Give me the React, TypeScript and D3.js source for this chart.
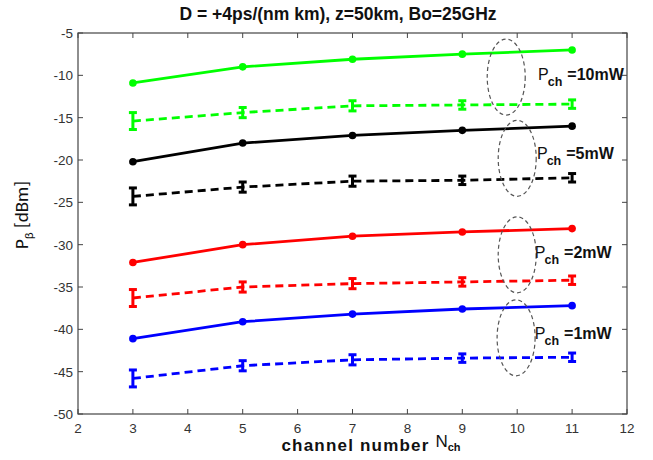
import React from "react";
import * as d3 from "d3";

const xs = [3, 5, 7, 9, 11];
const xTicks = [2, 3, 4, 5, 6, 7, 8, 9, 10, 11, 12];
const yTicks = [-5, -10, -15, -20, -25, -30, -35, -40, -45, -50];

const green10Solid = [-10.9, -9.0, -8.1, -7.5, -7.0];
const green10Dashed = [-15.4, -14.4, -13.6, -13.5, -13.4];
const black5Solid = [-20.2, -18.0, -17.1, -16.5, -16.0];
const black5Dashed = [-24.3, -23.2, -22.5, -22.4, -22.1];
const red2Solid = [-32.1, -30.0, -29.0, -28.5, -28.1];
const red2Dashed = [-36.3, -35.0, -34.6, -34.4, -34.2];
const blue1Solid = [-41.1, -39.1, -38.2, -37.6, -37.2];
const blue1Dashed = [-45.8, -44.3, -43.6, -43.4, -43.3];
const errDashed = [1.0, 0.6, 0.6, 0.5, 0.5];

const seriesSolid = [
  { v: green10Solid, c: "#00ff00" },
  { v: black5Solid, c: "#000000" },
  { v: red2Solid, c: "#ff0000" },
  { v: blue1Solid, c: "#0000ff" },
];
const seriesDashed = [
  { v: green10Dashed, c: "#00ff00" },
  { v: black5Dashed, c: "#000000" },
  { v: red2Dashed, c: "#ff0000" },
  { v: blue1Dashed, c: "#0000ff" },
];

const annotations = [
  { label: "=10mW", cx: 9.8, cy: -10.2, tx: 10.38, ty: -10.5 },
  { label: "=5mW", cx: 10.0, cy: -19.8, tx: 10.36, ty: -19.9 },
  { label: "=2mW", cx: 10.0, cy: -31.2, tx: 10.32, ty: -31.6 },
  { label: "=1mW", cx: 9.98, cy: -41.0, tx: 10.32, ty: -41.2 },
];

export default function App() {
  const W = 653, H = 460;
  const L = 78, R = 627, T = 33, B = 414;
  const x = d3.scaleLinear().domain([2, 12]).range([L, R]);
  const y = d3.scaleLinear().domain([-50, -5]).range([B, T]);
  const line = d3
    .line<number>()
    .x((_, i) => x(xs[i]))
    .y((d) => y(d));
  const font = "Liberation Sans, Arial, sans-serif";
  const tickCol = "#333";

  return (
    <svg width={W} height={H} style={{ position: "absolute", left: 0, top: 0 }}>
      <rect width={W} height={H} fill="#fff" />
      <text x={338} y={20} textAnchor="middle" fontFamily={font} fontWeight="bold" fontSize={17.5} fill="#111">
        D = +4ps/(nm km), z=50km, Bo=25GHz
      </text>
      {/* frame */}
      <rect x={L} y={T} width={R - L} height={B - T} fill="none" stroke="#444" strokeWidth={1.2} />
      {xTicks.map((t) => (
        <g key={"xt" + t}>
          <line x1={x(t)} x2={x(t)} y1={B} y2={B - 5} stroke="#444" />
          <line x1={x(t)} x2={x(t)} y1={T} y2={T + 5} stroke="#444" />
          <text x={x(t)} y={B + 19} textAnchor="middle" fontFamily={font} fontSize={13.5} fill={tickCol}>
            {t}
          </text>
        </g>
      ))}
      {yTicks.map((t) => (
        <g key={"yt" + t}>
          <line x1={L} x2={L + 5} y1={y(t)} y2={y(t)} stroke="#444" />
          <line x1={R} x2={R - 5} y1={y(t)} y2={y(t)} stroke="#444" />
          <text x={L - 5} y={y(t) + 5} textAnchor="end" fontFamily={font} fontSize={13.5} fill={tickCol}>
            {t}
          </text>
        </g>
      ))}
      {/* y label */}
      <text
        transform={`translate(28,${215}) rotate(-90)`}
        textAnchor="middle"
        fontFamily="Carlito, Liberation Sans, sans-serif"
        fontSize={19}
        fill="#111"
      >
        P<tspan fontSize={13} dy={5}>β</tspan>
        <tspan dy={-5}> [dBm]</tspan>
      </text>
      {/* x label */}
      <text x={371} y={451} textAnchor="middle" fontFamily={font} fontSize={17} fill="#111">
        <tspan fontWeight="bold" letterSpacing={1.2}>channel number </tspan>
        <tspan dy={-4}>N</tspan>
        <tspan fontSize={11} fontWeight="bold" dy={4}>ch</tspan>
      </text>
      {/* solid lines */}
      {seriesSolid.map((s, k) => (
        <g key={"s" + k}>
          <path d={line(s.v) || ""} fill="none" stroke={s.c} strokeWidth={2.8} />
          {s.v.map((v, i) => (
            <circle key={i} cx={x(xs[i])} cy={y(v)} r={3.8} fill={s.c} />
          ))}
        </g>
      ))}
      {/* dashed lines with error bars */}
      {seriesDashed.map((s, k) => (
        <g key={"d" + k}>
          <path d={line(s.v) || ""} fill="none" stroke={s.c} strokeWidth={2.8} strokeDasharray="8,5" />
          {s.v.map((v, i) => {
            const e = errDashed[i];
            const cx = x(xs[i]);
            return (
              <g key={i} stroke={s.c} strokeWidth={3}>
                <line x1={cx} x2={cx} y1={y(v - e)} y2={y(v + e)} />
                <line x1={cx - 4} x2={cx + 4} y1={y(v - e)} y2={y(v - e)} />
                <line x1={cx - 4} x2={cx + 4} y1={y(v + e)} y2={y(v + e)} />
              </g>
            );
          })}
        </g>
      ))}
      {/* annotations */}
      {annotations.map((a, k) => (
        <g key={"a" + k}>
          <ellipse
            cx={x(a.cx)}
            cy={y(a.cy)}
            rx={19}
            ry={38}
            fill="none"
            stroke="#555"
            strokeWidth={1.2}
            strokeDasharray="4,3"
          />
          <text x={x(a.tx)} y={y(a.ty)} fontFamily={font} fontSize={16} fill="#111">
            P
            <tspan fontSize={12.5} fontWeight="bold" dy={6} dx={-1}>ch</tspan>
            <tspan dy={-6} dx={5} fontWeight="bold">{a.label}</tspan>
          </text>
        </g>
      ))}
    </svg>
  );
}
